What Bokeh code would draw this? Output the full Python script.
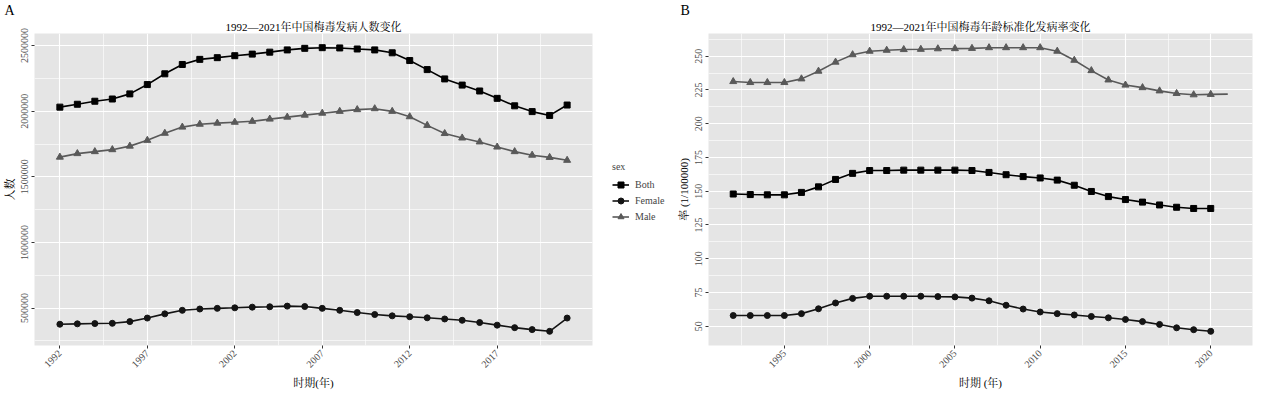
import numpy as np
from math import pi
from bokeh.plotting import figure
from bokeh.layouts import row
from bokeh.models import (Range1d, FixedTicker, Legend, LegendItem, Title,
                          NumeralTickFormatter)
from bokeh.embed import file_html
from bokeh.resources import INLINE

# ---------------- data ----------------
years_a = list(range(1992, 2022))
both_a = [2031000, 2053000, 2076000, 2093000, 2132000, 2203000, 2285000, 2356000,
          2395000, 2408000, 2423000, 2435000, 2450000, 2467000, 2479000, 2484000,
          2482000, 2474000, 2467000, 2445000, 2386000, 2317000, 2246000, 2199000,
          2154000, 2098000, 2041000, 1997000, 1968000, 2047000]
female_a = [377000, 380000, 382000, 384000, 397000, 424000, 456000, 483000,
            493000, 498000, 502000, 507000, 510000, 515000, 512000, 498000,
            483000, 466000, 451000, 441000, 434000, 426000, 417000, 407000,
            390000, 370000, 351000, 336000, 323000, 424000]
male_a = [1650000, 1677000, 1692000, 1707000, 1734000, 1778000, 1832000, 1879000,
          1901000, 1909000, 1916000, 1923000, 1940000, 1955000, 1970000, 1985000,
          1999000, 2012000, 2019000, 1999000, 1958000, 1892000, 1830000, 1796000,
          1766000, 1727000, 1692000, 1665000, 1648000, 1626000]

years_b = list(range(1992, 2022))
both_b = [147.9, 147.5, 147.3, 147.3, 149.1, 153.2, 158.7, 163.2, 165.3, 165.3,
          165.6, 165.6, 165.6, 165.6, 165.3, 163.9, 162.2, 160.8, 159.8, 158.2,
          154.4, 149.8, 146.0, 143.8, 141.9, 139.8, 138.1, 137.2, 137.2]
female_b = [57.9, 57.9, 57.9, 57.9, 59.3, 62.9, 67.2, 70.6, 72.2, 72.2,
            72.2, 72.2, 71.9, 71.7, 70.8, 68.8, 65.5, 62.7, 60.5, 59.3,
            58.3, 57.2, 56.2, 55.0, 53.4, 51.3, 48.8, 47.4, 46.2]
male_b = [231.2, 230.5, 230.5, 230.5, 233.2, 238.9, 245.6, 251.1, 253.7, 254.4,
          254.9, 255.1, 255.5, 255.6, 255.8, 256.3, 256.3, 256.3, 256.3, 253.7,
          247.0, 239.3, 232.4, 228.6, 226.7, 224.3, 222.4, 221.4, 221.7, 221.9]

series_labels = ["Both", "Female", "Male"]
legend_title = "sex"

xticks_a = [1992, 1997, 2002, 2007, 2012, 2017]
xminor_a = [1989.5, 1994.5, 1999.5, 2004.5, 2009.5, 2014.5, 2019.5]
yticks_a = [500000, 1000000, 1500000, 2000000, 2500000]
yminor_a = [250000, 750000, 1250000, 1750000, 2250000]

xticks_b = [1995, 2000, 2005, 2010, 2015, 2020]
xminor_b = [1992.5, 1997.5, 2002.5, 2007.5, 2012.5, 2017.5, 2022.5]
yticks_b = [50, 75, 100, 125, 150, 175, 200, 225, 250]
yminor_b = [62.5, 87.5, 112.5, 137.5, 162.5, 187.5, 212.5, 237.5, 262.5]

tag_a = "A"
tag_b = "B"
title_a = "1992—2021年中国梅毒发病人数变化"
title_b = "1992—2021年中国梅毒年龄标准化发病率变化"
xlabel_a = "时期(年)"
ylabel_a = "人数"
xlabel_b = "时期 (年)"
ylabel_b = "率 (1/100000)"

# ---------------- style ----------------
FONT = "'Liberation Serif', 'Noto Serif CJK SC', 'Noto Sans CJK SC', serif"
C_BOTH = "#000000"
C_FEMALE = "#141414"
C_MALE = "#595959"
PANEL_BG = "#E5E5E5"
H = 383
TOP = 30
BOTTOM = 41
FRAME_H = H - TOP - BOTTOM
FRAME_W_A = 558


def expand(vals, frac=0.05):
    lo, hi = float(np.min(vals)), float(np.max(vals))
    d = (hi - lo) * frac
    return Range1d(lo - d, hi + d)


def style(p, xt, xm, yt, ym, title, tag, tag_offset):
    p.background_fill_color = PANEL_BG
    p.border_fill_color = "white"
    p.outline_line_color = None
    xtick = FixedTicker(ticks=xt, minor_ticks=xm)
    ytick = FixedTicker(ticks=yt, minor_ticks=ym)
    p.xaxis.ticker = xtick
    p.yaxis.ticker = ytick
    p.xgrid.ticker = xtick
    p.ygrid.ticker = ytick
    for ax in p.axis:
        ax.axis_line_color = None
        ax.major_tick_line_color = "#333333"
        ax.major_tick_in = 0
        ax.major_tick_out = 3
        ax.minor_tick_line_color = None
        ax.major_label_text_font = FONT
        ax.major_label_text_font_size = "10px"
        ax.major_label_text_color = "#4D4D4D"
        ax.major_label_standoff = 2
        ax.axis_label_text_font = FONT
        ax.axis_label_text_font_size = "11px"
        ax.axis_label_text_font_style = "normal"
        ax.axis_label_text_color = "#000000"
        ax.axis_label_standoff = 3
    p.xaxis.major_label_orientation = pi / 4
    p.yaxis.major_label_orientation = "vertical"
    for g in (p.xgrid, p.ygrid):
        g.grid_line_color = "white"
        g.grid_line_width = 1.1
        g.minor_grid_line_color = "white"
        g.minor_grid_line_width = 0.6
    p.add_layout(Title(text=title, align="center", text_font=FONT,
                       text_font_size="11px", text_font_style="normal",
                       text_color="#000000", standoff=2), "above")
    p.add_layout(Title(text=tag, align="left", offset=tag_offset,
                       text_font=FONT, text_font_size="14px",
                       text_font_style="normal", text_color="#000000",
                       standoff=0), "above")


def add_series(p, x, y, color, marker, size, marker_x=None, marker_y=None):
    ln = p.line(x, y, line_color=color, line_width=1.6)
    mx = x if marker_x is None else marker_x
    my = y if marker_y is None else marker_y
    sc = p.scatter(mx, my, marker=marker, size=size, fill_color=color,
                   line_color=color)
    return ln, sc


# ---------------- panel A ----------------
pA = figure(frame_width=FRAME_W_A, frame_height=FRAME_H,
            output_backend="svg", toolbar_location=None,
            x_range=expand(years_a), y_range=expand(both_a + female_a + male_a),
            min_border_left=30, min_border_right=2, min_border_top=TOP,
            min_border_bottom=BOTTOM,
            x_axis_label=xlabel_a, y_axis_label=ylabel_a)
style(pA, xticks_a, xminor_a, yticks_a, yminor_a, title_a, tag_a, -30)
pA.yaxis.formatter = NumeralTickFormatter(format="0")

add_series(pA, years_a, both_a, C_BOTH, "square", 6)
add_series(pA, years_a, female_a, C_FEMALE, "circle", 6)
add_series(pA, years_a, male_a, C_MALE, "triangle", 7)

# ---------------- legend (own small canvas) ----------------
pL = figure(width=74, height=H, output_backend="svg", toolbar_location=None,
            x_axis_type=None, y_axis_type=None,
            x_range=Range1d(0, 1), y_range=Range1d(0, 1),
            min_border_left=0, min_border_right=0, min_border_top=0,
            min_border_bottom=0)
pL.outline_line_color = None
pL.background_fill_color = "white"
pL.border_fill_color = "white"
nan = [float("nan")]
lb = add_series(pL, nan, nan, C_BOTH, "square", 6)
lf = add_series(pL, nan, nan, C_FEMALE, "circle", 6)
lm = add_series(pL, nan, nan, C_MALE, "triangle", 7)
legend = Legend(items=[LegendItem(label=series_labels[0], renderers=list(lb)),
                       LegendItem(label=series_labels[1], renderers=list(lf)),
                       LegendItem(label=series_labels[2], renderers=list(lm))],
                title=legend_title, location=(18, 113), orientation="vertical")
legend.title_text_font = FONT
legend.title_text_font_size = "10px"
legend.title_text_font_style = "normal"
legend.title_standoff = 5
legend.label_text_font = FONT
legend.label_text_font_size = "10px"
legend.label_standoff = 6
legend.glyph_width = 17
legend.glyph_height = 15
legend.label_height = 15
legend.spacing = 1
legend.padding = 2
legend.margin = 0
legend.border_line_color = None
legend.background_fill_alpha = 0
pL.add_layout(legend, "center")

# ---------------- panel B ----------------
pB = figure(width=586, frame_height=FRAME_H, output_backend="svg",
            toolbar_location=None,
            x_range=expand(years_b), y_range=expand(both_b + female_b + male_b),
            min_border_left=40, min_border_right=2, min_border_top=TOP,
            min_border_bottom=BOTTOM,
            x_axis_label=xlabel_b, y_axis_label=ylabel_b)
style(pB, xticks_b, xminor_b, yticks_b, yminor_b, title_b, tag_b, -28)

n = len(both_b)
add_series(pB, years_b, male_b, C_MALE, "triangle", 7,
           marker_x=years_b[:n], marker_y=male_b[:n])
add_series(pB, years_b[:n], both_b, C_BOTH, "square", 6)
add_series(pB, years_b[:n], female_b, C_FEMALE, "circle", 6)

layout = row(pA, pL, pB)
open("out.html", "w").write(file_html(layout, INLINE))
